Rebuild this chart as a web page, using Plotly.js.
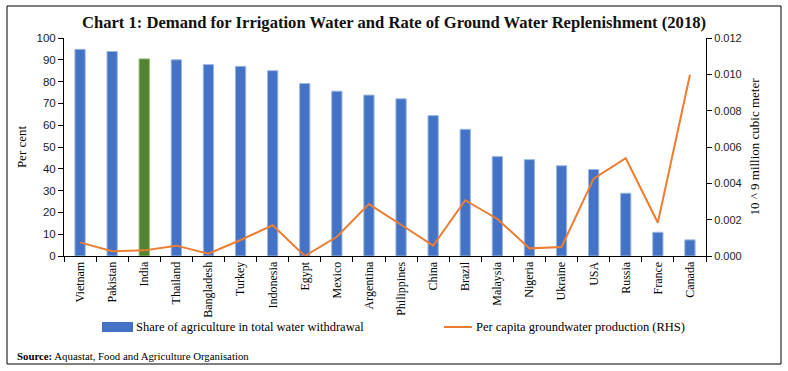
<!DOCTYPE html>
<html>
<head>
<meta charset="utf-8">
<script src="https://cdn.plot.ly/plotly-3.0.1.min.js"></script>
<style>
  html, body { margin: 0; padding: 0; background: #fff; }
  #chart { width: 788px; height: 371px; }
</style>
</head>
<body>
<div id="chart"></div>
<script>
const countries = ["Vietnam","Pakistan","India","Thailand","Bangladesh","Turkey","Indonesia","Egypt","Mexico","Argentina","Philippines","China","Brazil","Malaysia","Nigeria","Ukraine","USA","Russia","France","Canada"];
const agriShare = [94.8, 93.8, 90.4, 90.0, 87.8, 87.0, 85.0, 79.1, 75.6, 73.8, 72.1, 64.4, 58.1, 45.6, 44.2, 41.4, 39.7, 28.8, 10.9, 7.4];
const gwPerCapita = [0.00075, 0.00026, 0.00031, 0.00057, 0.00013, 0.00088, 0.00169, 0.0, 0.00106, 0.00286, 0.00172, 0.00057, 0.00307, 0.00204, 0.00042, 0.00050, 0.00426, 0.00538, 0.00183, 0.00998];
const highlight = "India";
const leftTicks = [0,10,20,30,40,50,60,70,80,90,100];
const rightTicks = [0,0.002,0.004,0.006,0.008,0.010,0.012];

const serif = "Liberation Serif, Times New Roman, serif";
const sans = "Liberation Sans, Arial, sans-serif";

const barColors = countries.map(c => c === highlight ? "#548235" : "#4472C4");
const barLines = countries.map(c => c === highlight ? "#8DB96A" : "#9DB7E4");

const traces = [
  {
    type: "bar",
    x: countries,
    y: agriShare,
    name: "Share of agriculture in total water withdrawal",
    marker: { color: barColors, line: { color: barLines, width: 1 } },
    width: 0.32,
    showlegend: false,
    hoverinfo: "x+y"
  },
  {
    type: "scatter",
    mode: "lines",
    x: countries,
    y: gwPerCapita,
    yaxis: "y2",
    name: "Per capita groundwater production (RHS)",
    line: { color: "#ED7D31", width: 2 },
    showlegend: false
  }
];

// plot area: x 64..706, y 38..256
const L = 64, R = 706, T = 38, B = 256;
const px = x => (x - L) / (R - L);
const py = y => (B - y) / (B - T);

const layout = {
  width: 788,
  height: 371,
  margin: { l: L, r: 788 - R, t: T, b: 371 - B, pad: 0 },
  paper_bgcolor: "#ffffff",
  plot_bgcolor: "#ffffff",
  title: {
    text: "<b>Chart 1: Demand for Irrigation Water and Rate of Ground Water Replenishment (2018)</b>",
    font: { family: serif, size: 16.6, color: "#111" },
    x: 0.5, xanchor: "center",
    y: 1 - 22 / 371, yanchor: "middle", yref: "container"
  },
  xaxis: {
    type: "category",
    showline: true, linecolor: "#000", linewidth: 1,
    ticks: "outside", tickson: "boundaries", ticklen: 5, tickcolor: "#000",
    tickangle: -90,
    tickfont: { family: serif, size: 12, color: "#000" },
    showgrid: false, zeroline: false,
    fixedrange: true
  },
  yaxis: {
    range: [0, 100],
    tickvals: leftTicks,
    showline: true, linecolor: "#000", linewidth: 1,
    ticks: "outside", ticklen: 5, tickcolor: "#000",
    tickfont: { family: sans, size: 11.5, color: "#222" },
    showgrid: false, zeroline: false,
    title: { text: "Per cent", font: { family: serif, size: 13, color: "#000" }, standoff: 6 }
  },
  yaxis2: {
    overlaying: "y",
    side: "right",
    range: [0, 0.012],
    tickvals: rightTicks,
    tickformat: ".3f",
    showline: true, linecolor: "#000", linewidth: 1,
    ticks: "outside", ticklen: 5, tickcolor: "#000",
    tickfont: { family: sans, size: 11, color: "#222" },
    showgrid: false, zeroline: false,
    title: { text: "10 ^ 9 million cubic meter", font: { family: serif, size: 13, color: "#000" }, standoff: 9 }
  },
  shapes: [
    { type: "rect", xref: "paper", yref: "paper",
      x0: px(7), x1: px(781), y0: py(364), y1: py(6),
      line: { color: "#000", width: 1 }, fillcolor: "rgba(0,0,0,0)", layer: "below" },
    { type: "rect", xref: "paper", yref: "paper",
      x0: px(102), x1: px(133), y0: py(332), y1: py(322),
      line: { width: 0 }, fillcolor: "#4472C4" },
    { type: "line", xref: "paper", yref: "paper",
      x0: px(444), x1: px(472), y0: py(327), y1: py(327),
      line: { color: "#ED7D31", width: 2 } }
  ],
  annotations: [
    { xref: "paper", yref: "paper", x: px(134), y: py(327), xanchor: "left", yanchor: "middle",
      text: "Share of agriculture in total water withdrawal", showarrow: false,
      font: { family: serif, size: 12.5, color: "#000" } },
    { xref: "paper", yref: "paper", x: px(474), y: py(327), xanchor: "left", yanchor: "middle",
      text: "Per capita groundwater production (RHS)", showarrow: false,
      font: { family: serif, size: 12.5, color: "#000" } },
    { xref: "paper", yref: "paper", x: px(15), y: py(356), xanchor: "left", yanchor: "middle",
      text: "<b>Source:</b> Aquastat, Food and Agriculture Organisation", showarrow: false,
      font: { family: serif, size: 10.8, color: "#000" } }
  ]
};

Plotly.newPlot("chart", traces, layout, { displayModeBar: false, staticPlot: true });
</script>
</body>
</html>
